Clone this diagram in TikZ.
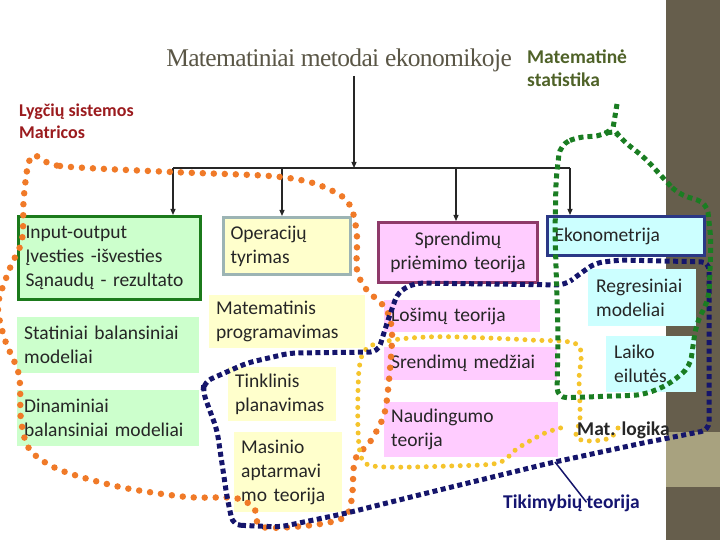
\documentclass[tikz,border=0pt]{standalone}
\usepackage{fontspec}
\setmainfont{Carlito}
\newfontfamily\titlefont[LetterSpace=-2.5]{Liberation Serif}
\usetikzlibrary{arrows.meta}

\definecolor{TextGray}{HTML}{262626}
\definecolor{TitleGray}{HTML}{5A5646}
\definecolor{LabelRed}{HTML}{9B1B1E}
\definecolor{LabelOlive}{HTML}{4F6228}
\definecolor{LabelNavy}{HTML}{141470}
\definecolor{MintFill}{HTML}{CCFFCC}
\definecolor{CreamFill}{HTML}{FFFFCC}
\definecolor{PinkFill}{HTML}{FFCCFF}
\definecolor{IceFill}{HTML}{CCFFFF}
\definecolor{BorderGreen}{HTML}{1B7A1B}
\definecolor{BorderSlate}{HTML}{9CB4B4}
\definecolor{BorderPlum}{HTML}{8E3A6A}
\definecolor{BorderNavy}{HTML}{2B3886}
\definecolor{DotOrange}{HTML}{F07A28}
\definecolor{DotYellow}{HTML}{F5C42C}
\definecolor{DotNavy}{HTML}{15156B}
\definecolor{DotGreen}{HTML}{1A7D22}
\definecolor{StripDark}{HTML}{665E4C}
\definecolor{StripLight}{HTML}{A8A27F}

\tikzset{
  topic/.style={rectangle, anchor=north west, align=left, inner xsep=7pt, inner ysep=0pt,
    text=TextGray, font=\fontsize{19.5}{24}\selectfont},
  feed/.style={draw=TextGray, line width=1.2pt, -{Triangle[length=6pt,width=5pt]}},
  wire/.style={draw=TextGray, line width=1.2pt},
  tag/.style={anchor=west, align=left, inner sep=0pt, font=\bfseries\fontsize{19.5}{23}\selectfont},
  orangedots/.style={draw=DotOrange, line width=6.5pt, line cap=round, dash pattern=on 0pt off 11pt},
  yellowdots/.style={draw=DotYellow, line width=5pt, line cap=round, dash pattern=on 0pt off 8.5pt},
  navydash/.style={draw=DotNavy, line width=5pt, dash pattern=on 5pt off 3.5pt},
  greendash/.style={draw=DotGreen, line width=5pt, dash pattern=on 5pt off 4pt}
}

\begin{document}
\begin{tikzpicture}[x=1pt, y=-1pt]
  \useasboundingbox (0,0) rectangle (720,540);

  % right strip
  \fill[StripDark] (666,0) rectangle (720,540);
  \fill[StripLight] (666,432) rectangle (720,487);

  % title and side labels
  \node[inner sep=0pt, text=TitleGray, font=\titlefont\fontsize{25.5}{28}\selectfont] (title) at (339,60) {Matematiniai metodai ekonomikoje};
  \node[tag, text=LabelRed, font=\bfseries\fontsize{18}{22}\selectfont] (lygciu) at (19,121) {Lygčių sistemos\\Matricos};
  \node[tag, text=LabelOlive] (matstat) at (527,68) {Matematinė\\statistika};

  % left column
  \node[topic, fill=MintFill, draw=BorderGreen, line width=3pt, text width=168pt, minimum height=83pt] (inout) at (17,215)
    {Input-output\\Įvesties -išvesties\\Sąnaudų - rezultato};
  \node[topic, fill=MintFill, text width=168pt, minimum height=56pt] (statin) at (17,317)
    {Statiniai balansiniai\\modeliai};
  \node[topic, fill=MintFill, text width=168pt, minimum height=56pt] (dinam) at (17,390)
    {Dinaminiai\\balansiniai modeliai};

  % operations research column
  \node[topic, fill=CreamFill, draw=BorderSlate, line width=3pt, text width=113pt, minimum height=57pt] (oper) at (222,216)
    {Operacijų\\tyrimas};
  \node[topic, fill=CreamFill, text width=142pt, minimum height=53pt] (matprog) at (209,295)
    {Matematinis\\programavimas};
  \node[topic, fill=CreamFill, text width=94pt, minimum height=54pt] (tinkl) at (228,367)
    {Tinklinis\\planavimas};
  \node[topic, fill=CreamFill, text width=94pt, minimum height=80pt] (masin) at (234,432)
    {Masinio\\aptarmavi\\mo teorija};

  % decision column
  \node[topic, fill=PinkFill, draw=BorderPlum, line width=3pt, align=center, text width=145pt, minimum height=60pt] (sprend) at (377,221)
    {Sprendimų\\priėmimo teorija};
  \node[topic, fill=PinkFill, text width=142pt, minimum height=32pt] (losim) at (384,300)
    {Lošimų teorija};
  \node[topic, fill=PinkFill, text width=159pt, minimum height=33pt] (medz) at (384,347)
    {Srendimų medžiai};
  \node[topic, fill=PinkFill, text width=160pt, minimum height=55pt] (naud) at (384,402)
    {Naudingumo\\teorija};

  % econometrics column
  \node[topic, fill=IceFill, draw=BorderNavy, line width=3pt, text width=143pt, minimum height=39pt] (ekon) at (546,215)
    {Ekonometrija};
  \node[topic, fill=IceFill, inner xsep=8pt, text width=92pt, minimum height=57pt] (regr) at (588,269)
    {Regresiniai\\modeliai};
  \node[topic, fill=IceFill, inner xsep=8pt, text width=74pt, minimum height=56pt] (laiko) at (606,336)
    {Laiko\\eilutės};

  % tree
  \coordinate (bus) at (354,168);
  \coordinate (busW) at (173,168);
  \coordinate (busE) at (570,168);
  \draw[feed] (title.south -| bus) ++(0,4) -- (bus);
  \draw[wire] (busW) -- (busE);
  \foreach \n/\xx in {inout/173, oper/282, sprend/456, ekon/570}{
    \coordinate (drop\n) at (\xx,168);
    \draw[feed] (drop\n) -- (\n.north -| drop\n);
  }

  % groups
  \draw[orangedots] plot[smooth cycle, tension=0.5] coordinates {
    (32,156) (60,166) (172,172) (270,176) (313,183) (343,197) (353,213) (357,237)
    (357,270) (366,289) (386,309) (392,333) (389,380) (384,415) (370,442) (355,460)
    (352,497) (345,517) (313,525) (262,527) (254,508) (235,498) (187,497) (120,487)
    (60,470) (30,450) (21,420) (19,375) (5,340) (-2,305) (10,268) (22,240) (24,195)};
  \draw[yellowdots] plot[smooth, tension=0.5] coordinates {
    (618,428) (610,438) (590,441) (576,437) (580,418) (579,380) (578,345) (530,340)
    (460,337) (427,337) (393,340) (367,348) (359,370) (358,430) (363,461) (385,467)
    (450,466) (498,463) (518,448) (545,433) (568,426)};
  \draw[navydash, rounded corners=8pt] (233,525) -- (280,527) -- (347,513) -- (427,493)
    -- (550,463) -- (643,443) -- (709,430) -- (709,262) -- (620,260) -- (595,263)
    -- (577,276) -- (565,285) -- (415,283) -- (398,292) -- (388,320) -- (378,352)
    -- (290,353) -- (247,363) -- (204,382) -- (203,392) -- (217,430) -- (227,497) -- cycle;
  \draw[greendash, rounded corners=8pt] (617,104) -- (613,128);
  \draw[greendash, rounded corners=10pt] (613,128) -- (603,136) -- (577,137) -- (560,145)
    -- (556,180) -- (555,233) -- (558,333) -- (557,398) -- (643,395) -- (668,385)
    -- (690,367) -- (696,325) -- (709,298) -- (711,240) -- (707,203) -- (678,194)
    -- (665,180) -- (645,158) -- (622,140) -- cycle;

  % outside labels
  \node[tag, text=TextGray] (logika) at (577,430) {Mat. logika};
  \node[tag, text=LabelNavy] (tikim) at (503,503) {Tikimybių teorija};
  \coordinate (tikpt) at (555,462);
  \draw[DotNavy, line width=1.5pt] (tikpt) -- ([xshift=15pt, yshift=-8pt]tikim.north);
\end{tikzpicture}
\end{document}
